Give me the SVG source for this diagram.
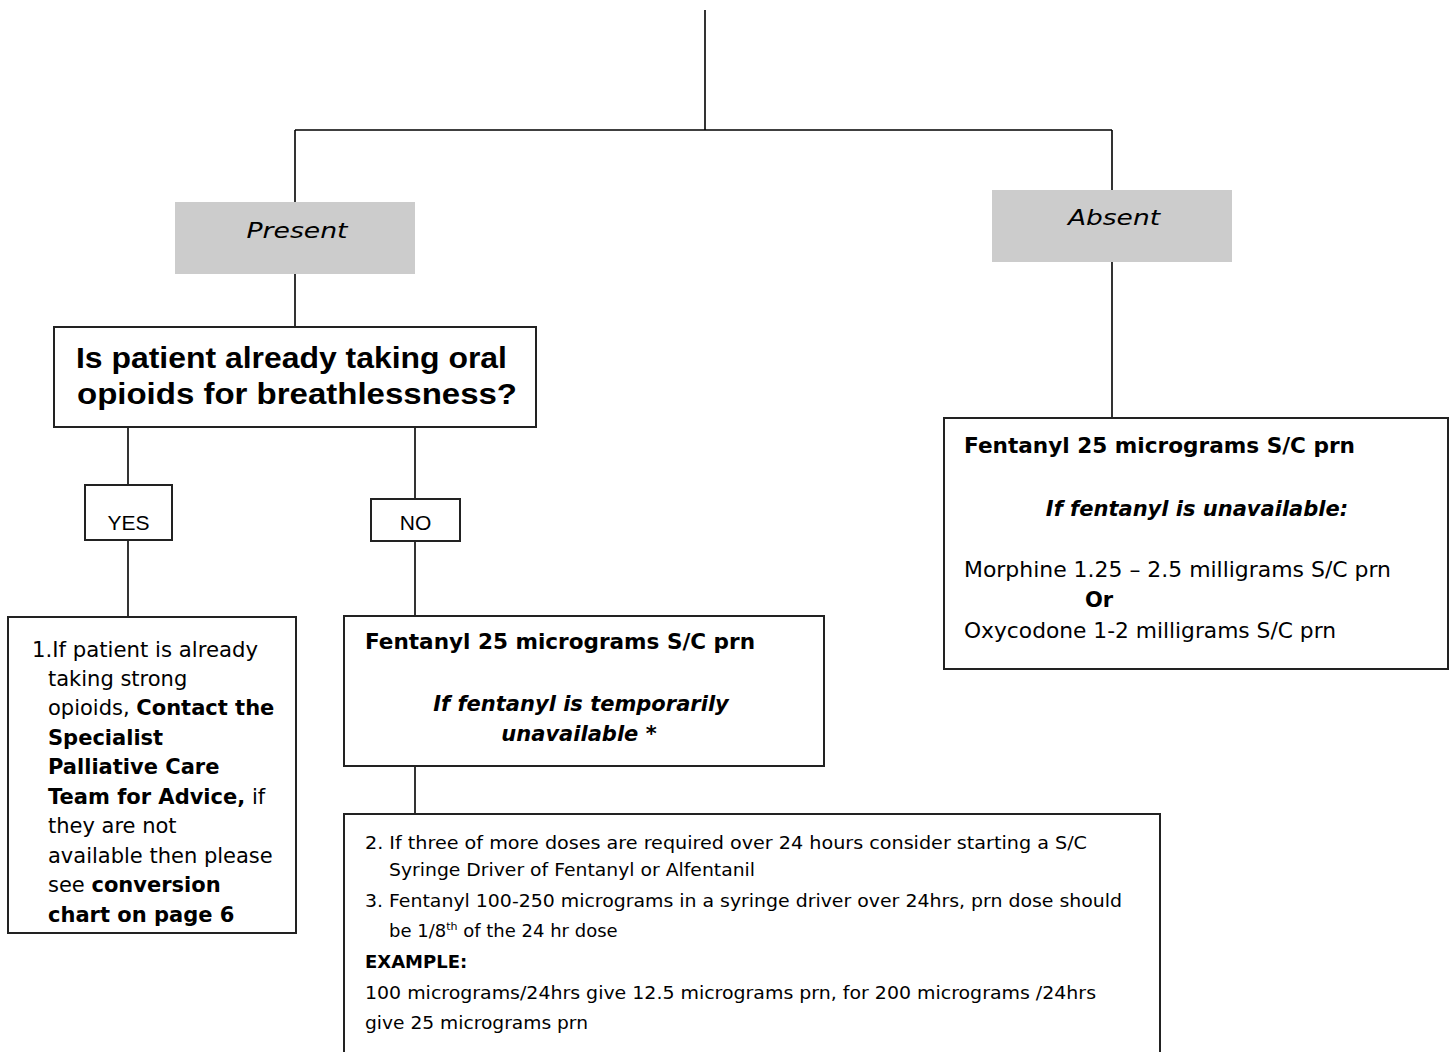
<svg xmlns="http://www.w3.org/2000/svg" width="1453" height="1052" viewBox="0 0 1453 1052">
<style>
.box{fill:#fff;stroke:#222;stroke-width:2}
.grey{fill:#ccc;stroke:none}
.con line{stroke:#000;stroke-width:1.6}
.v{font-family:"DejaVu Sans",Verdana,sans-serif;font-size:21px;fill:#000}
.b{font-weight:bold}
.i{font-style:italic}
.n{font-family:"DejaVu Sans",Verdana,sans-serif;font-size:18px;fill:#000}
.a{font-family:"Liberation Sans",Arial,sans-serif;fill:#000}
</style>
<rect width="1453" height="1052" fill="#fff"/>
<g class="con" id="connectors">
<line x1="705" y1="10" x2="705" y2="130"/>
<line x1="295" y1="130" x2="1112" y2="130"/>
<line x1="295" y1="130" x2="295" y2="202"/>
<line x1="1112" y1="130" x2="1112" y2="190"/>
<line x1="1112" y1="262" x2="1112" y2="418"/>
<line x1="295" y1="274" x2="295" y2="327"/>
<line x1="128" y1="427" x2="128" y2="485"/>
<line x1="415" y1="427" x2="415" y2="499"/>
<line x1="128" y1="540" x2="128" y2="617"/>
<line x1="415" y1="541" x2="415" y2="616"/>
<line x1="415" y1="766" x2="415" y2="814"/>
</g>
<g id="present">
<rect class="grey" x="175" y="202" width="240" height="72"/>
<text class="v i" x="297" y="238" font-size="25" text-anchor="middle" textLength="101" lengthAdjust="spacingAndGlyphs">Present</text>
</g>
<g id="absent">
<rect class="grey" x="992" y="190" width="240" height="72"/>
<text class="v i" x="1114" y="225" font-size="25" text-anchor="middle" textLength="92" lengthAdjust="spacingAndGlyphs">Absent</text>
</g>
<g id="question">
<rect class="box" x="54" y="327" width="482" height="100"/>
<text class="a b" x="76" y="368" font-size="29" textLength="431" lengthAdjust="spacingAndGlyphs">Is patient already taking oral</text>
<text class="a b" x="77" y="404" font-size="29" textLength="440" lengthAdjust="spacingAndGlyphs">opioids for breathlessness?</text>
</g>
<g id="yes">
<rect class="box" x="85" y="485" width="87" height="55"/>
<text class="a" x="128.5" y="530" font-size="21" text-anchor="middle">YES</text>
</g>
<g id="no">
<rect class="box" x="371" y="499" width="89" height="42"/>
<text class="a" x="415.5" y="530" font-size="21" text-anchor="middle">NO</text>
</g>
<g id="yes-advice">
<rect class="box" x="8" y="617" width="288" height="316"/>
<text class="v" x="32" y="657" textLength="226" lengthAdjust="spacingAndGlyphs">1.If patient is already</text>
<text class="v" x="48" y="686">taking strong</text>
<text class="v" x="48" y="715">opioids, <tspan class="b">Contact the</tspan></text>
<text class="v b" x="48" y="745">Specialist</text>
<text class="v b" x="48" y="774">Palliative Care</text>
<text class="v" x="48" y="804"><tspan class="b">Team for Advice,</tspan> if</text>
<text class="v" x="48" y="833">they are not</text>
<text class="v" x="48" y="863">available then please</text>
<text class="v" x="48" y="892">see <tspan class="b">conversion</tspan></text>
<text class="v b" x="48" y="922">chart on page 6</text>
</g>
<g id="no-fentanyl">
<rect class="box" x="344" y="616" width="480" height="150"/>
<text class="v b" x="365" y="649" font-size="20" textLength="390" lengthAdjust="spacingAndGlyphs">Fentanyl 25 micrograms S/C prn</text>
<text class="v b i" x="581" y="711" text-anchor="middle">If fentanyl is temporarily</text>
<text class="v b i" x="579" y="741" text-anchor="middle">unavailable *</text>
</g>
<g id="absent-fentanyl">
<rect class="box" x="944" y="418" width="504" height="251"/>
<text class="v b" x="964" y="453" font-size="20" textLength="391" lengthAdjust="spacingAndGlyphs">Fentanyl 25 micrograms S/C prn</text>
<text class="v b i" x="1197" y="516" text-anchor="middle">If fentanyl is unavailable:</text>
<text class="v" x="964" y="577" font-size="20" textLength="427" lengthAdjust="spacingAndGlyphs">Morphine 1.25 – 2.5 milligrams S/C prn</text>
<text class="v b" x="1085" y="607" font-size="20">Or</text>
<text class="v" x="964" y="638" font-size="20" textLength="372" lengthAdjust="spacingAndGlyphs">Oxycodone 1-2 milligrams S/C prn</text>
</g>
<g id="syringe-driver">
<rect class="box" x="344" y="814" width="816" height="260"/>
<text class="n" x="365" y="849" textLength="722" lengthAdjust="spacingAndGlyphs">2. If  three of more doses are required over 24 hours consider starting a S/C</text>
<text class="n" x="389" y="876" textLength="366" lengthAdjust="spacingAndGlyphs">Syringe Driver of Fentanyl or Alfentanil</text>
<text class="n" x="365" y="907" textLength="757" lengthAdjust="spacingAndGlyphs">3. Fentanyl 100-250 micrograms in a syringe driver over 24hrs, prn dose should</text>
<text class="n" x="389" y="937">be 1/8<tspan font-size="11" dy="-7">th</tspan><tspan dy="7"> of the 24 hr dose</tspan></text>
<text class="n b" x="365" y="968">EXAMPLE:</text>
<text class="n" x="365" y="999" textLength="731" lengthAdjust="spacingAndGlyphs">100 micrograms/24hrs give 12.5 micrograms prn, for 200 micrograms /24hrs</text>
<text class="n" x="365" y="1029" textLength="223" lengthAdjust="spacingAndGlyphs">give 25 micrograms prn</text>
</g>
</svg>
